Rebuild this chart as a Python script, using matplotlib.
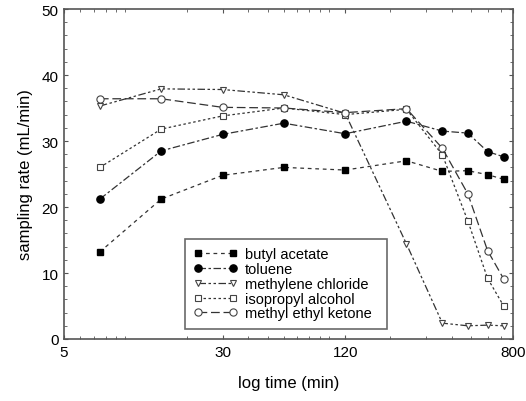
import matplotlib
matplotlib.use("Agg")
import matplotlib.pyplot as plt
from matplotlib.ticker import FixedLocator, LogLocator, NullFormatter, MultipleLocator

plt.rcParams['font.family'] = ['Liberation Sans', 'DejaVu Sans']

# sampling times (min)
times = [7.5, 15, 30, 60, 120, 240, 360, 480, 600, 720]

butyl_acetate = [13.2, 21.2, 24.8, 26.0, 25.6, 27.0, 25.4, 25.5, 24.9, 24.2]
toluene = [21.2, 28.5, 31.0, 32.7, 31.1, 33.0, 31.5, 31.2, 28.4, 27.6]
methylene_chloride = [35.3, 37.9, 37.8, 37.0, 34.2, 14.4, 2.4, 2.0, 2.1, 2.0]
isopropyl_alcohol = [26.0, 31.8, 33.8, 35.0, 34.0, 34.8, 27.9, 17.9, 9.2, 5.0]
methyl_ethyl_ketone = [36.4, 36.4, 35.1, 35.0, 34.3, 34.9, 28.9, 22.0, 13.4, 9.1]

series_names = ['butyl acetate', 'toluene', 'methylene chloride',
                'isopropyl alcohol', 'methyl ethyl ketone']
xtick_vals = [5, 30, 120, 800]
xtick_labels = ['5', '30', '120', '800']

fig = plt.figure(figsize=(5.26, 4.02), dpi=100)
ax = fig.add_axes([64 / 526, 62 / 402, 449 / 526, 330 / 402])

lc = '#333333'
ax.plot(times, butyl_acetate, color=lc, lw=0.9, dashes=(3, 3),
        marker='s', ms=4.8, mfc='black', mec='black', label=series_names[0])
ax.plot(times, toluene, color=lc, lw=0.9, dashes=(6, 2, 2, 2),
        marker='o', ms=5.2, mfc='black', mec='black', label=series_names[1])
ax.plot(times, methylene_chloride, color=lc, lw=0.9, dashes=(6, 2, 2, 2, 2, 2),
        marker='v', ms=4.5, mfc='white', mec='#444444', mew=0.8, label=series_names[2])
ax.plot(times, isopropyl_alcohol, color=lc, lw=0.9, dashes=(2, 2),
        marker='s', ms=4.8, mfc='white', mec='#444444', mew=0.8, label=series_names[3])
ax.plot(times, methyl_ethyl_ketone, color=lc, lw=0.9, dashes=(7, 3),
        marker='o', ms=5.2, mfc='white', mec='#444444', mew=0.8, label=series_names[4])

ax.set_xscale('log')
ax.set_xlim(5, 800)
ax.set_ylim(0, 50)
ax.xaxis.set_major_locator(FixedLocator(xtick_vals))
ax.set_xticklabels(xtick_labels)
ax.xaxis.set_minor_locator(LogLocator(base=10, subs=range(1, 10)))
ax.xaxis.set_minor_formatter(NullFormatter())
ax.yaxis.set_major_locator(MultipleLocator(10))
ax.yaxis.set_minor_locator(MultipleLocator(2))

for s in ax.spines.values():
    s.set_color('#555555')
    s.set_linewidth(1.2)
ax.tick_params(which='both', direction='in', top=True, right=True, color='#555555')
ax.tick_params(which='major', length=3, labelsize=11, pad=4)
ax.tick_params(which='minor', length=2)

ax.set_xlabel('log time (min)', fontsize=12, labelpad=12)
ax.set_ylabel('sampling rate (mL/min)', fontsize=12, labelpad=6)

leg = ax.legend(loc='lower left', bbox_to_anchor=(0.269, 0.03, 0.45, 0.306),
                mode='expand', fontsize=10.5, frameon=True, fancybox=False,
                numpoints=2, handlelength=3.0, handletextpad=0.5,
                labelspacing=0.05, borderpad=0.6, borderaxespad=0)
leg.get_frame().set_edgecolor('#444444')
leg.get_frame().set_linewidth(1.2)

fig.savefig('out.png', dpi=100)
